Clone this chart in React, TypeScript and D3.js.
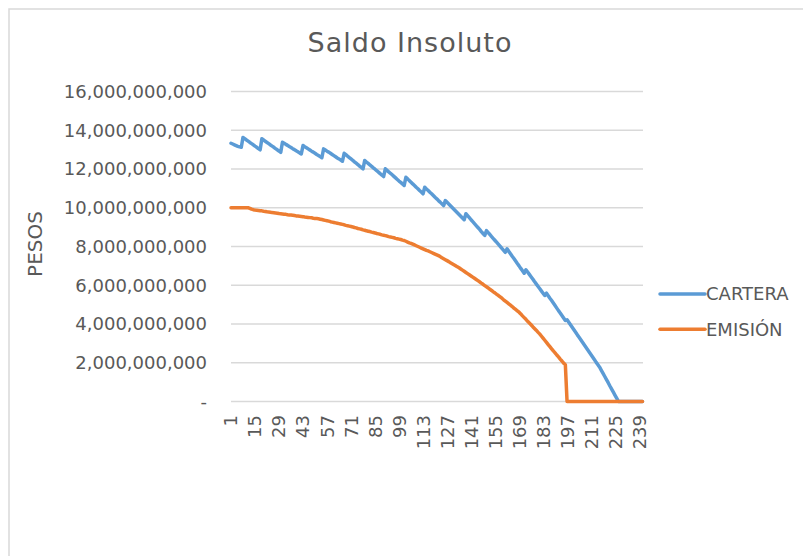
import React from 'react';
import * as d3 from 'd3';

const width = 803;
const height = 556;
const plot = { left: 231, right: 642.5, top: 91.5, bottom: 401.5 };

// periods 1..241 (monthly)
const categories = d3.range(1, 242);
const xTickLabels = [1, 15, 29, 43, 57, 71, 85, 99, 113, 127, 141, 155, 169, 183, 197, 211, 225, 239];
const yTicks = [0, 2e9, 4e9, 6e9, 8e9, 10e9, 12e9, 14e9, 16e9];
const seriesNames = ['CARTERA', 'EMISIÓN'];
const seriesColors = ['#5b9bd5', '#ed7d31'];

// saldo in thousands of millions of pesos
const cartera = [
  13.33, 13.29, 13.25, 13.21, 13.17, 13.14, 13.12,
  13.63, 13.57, 13.50, 13.44, 13.37, 13.31, 13.25, 13.18, 13.12, 13.05, 12.99,
  13.56, 13.50, 13.43, 13.37, 13.31, 13.24, 13.18, 13.12, 13.05, 12.99, 12.92, 12.86,
  13.38, 13.33, 13.27, 13.22, 13.16, 13.11, 13.05, 13.00, 12.94, 12.89, 12.83, 12.78,
  13.21, 13.15, 13.10, 13.04, 12.98, 12.92, 12.87, 12.81, 12.75, 12.70, 12.64, 12.58,
  13.04, 12.98, 12.92, 12.87, 12.81, 12.75, 12.69, 12.63, 12.57, 12.52, 12.46, 12.40,
  12.81, 12.74, 12.66, 12.59, 12.52, 12.45, 12.37, 12.30, 12.23, 12.15, 12.08, 12.01,
  12.44, 12.36, 12.29, 12.21, 12.14, 12.06, 11.99, 11.91, 11.84, 11.76, 11.69, 11.61,
  12.01, 11.93, 11.85, 11.78, 11.70, 11.62, 11.54, 11.46, 11.38, 11.31, 11.23, 11.15,
  11.57, 11.49, 11.40, 11.32, 11.23, 11.15, 11.06, 10.98, 10.89, 10.81, 10.72,
  11.06, 10.97, 10.89, 10.80, 10.72, 10.63, 10.54, 10.46, 10.37, 10.29, 10.20, 10.11,
  10.37, 10.28, 10.19, 10.10, 10.01, 9.92, 9.83, 9.74, 9.65, 9.56, 9.47, 9.38,
  9.69, 9.59, 9.49, 9.38, 9.28, 9.18, 9.08, 8.98, 8.88, 8.77, 8.67, 8.57,
  8.82, 8.72, 8.62, 8.51, 8.41, 8.31, 8.21, 8.11, 8.01, 7.90, 7.80, 7.70,
  7.88, 7.75, 7.63, 7.50, 7.38, 7.25, 7.12, 7.00, 6.87, 6.75, 6.62,
  6.80, 6.68, 6.56, 6.44, 6.32, 6.19, 6.07, 5.95, 5.83, 5.71, 5.59, 5.47,
  5.59, 5.46, 5.33, 5.21, 5.08, 4.95, 4.82, 4.69, 4.57, 4.44, 4.31, 4.18,
  4.22, 4.09, 3.96, 3.83, 3.70, 3.57, 3.44, 3.32, 3.19, 3.06, 2.93, 2.80,
  2.67, 2.54, 2.41, 2.28, 2.15, 2.02, 1.90, 1.77,
  1.61, 1.45, 1.29, 1.13, 0.97, 0.80, 0.64, 0.48, 0.32, 0.16, 0,
  0, 0, 0, 0, 0, 0, 0, 0, 0, 0, 0, 0, 0, 0,
];

const emision = [
  10.00, 10.00, 10.00, 10.00, 10.00, 10.00, 10.00, 10.00, 10.00, 10.00, 10.00,
  9.97, 9.93, 9.90, 9.88, 9.87,
  9.86, 9.85, 9.84, 9.82, 9.81, 9.79, 9.78, 9.77, 9.75, 9.74, 9.73, 9.72, 9.70, 9.69,
  9.68, 9.67, 9.66, 9.64, 9.63, 9.62, 9.61, 9.60, 9.58, 9.57, 9.56,
  9.55, 9.54, 9.52, 9.51, 9.50, 9.49, 9.48, 9.46, 9.45, 9.44, 9.43,
  9.41, 9.39, 9.37, 9.35, 9.33, 9.31, 9.28, 9.26, 9.24, 9.22,
  9.20, 9.18, 9.16, 9.14, 9.12, 9.09, 9.07, 9.05, 9.03,
  9.01, 8.98, 8.96, 8.93, 8.91, 8.89, 8.86, 8.84, 8.81, 8.79, 8.77, 8.74, 8.72, 8.70, 8.67, 8.65,
  8.63, 8.60, 8.58, 8.56, 8.54, 8.51, 8.49, 8.47, 8.45, 8.42, 8.40, 8.38, 8.36, 8.33, 8.31,
  8.27, 8.23, 8.19, 8.16, 8.12, 8.08, 8.04, 8.00,
  7.96, 7.92, 7.88, 7.84, 7.80, 7.77, 7.73, 7.69, 7.65, 7.61, 7.57, 7.53,
  7.48, 7.42, 7.37, 7.32, 7.27, 7.22, 7.16, 7.11, 7.06, 7.01, 6.95, 6.90,
  6.84, 6.78, 6.72, 6.66, 6.60, 6.54, 6.48, 6.42, 6.36, 6.30, 6.24,
  6.18, 6.11, 6.05, 5.98, 5.92, 5.86, 5.79, 5.73, 5.66, 5.60, 5.53, 5.47,
  5.40, 5.33, 5.25, 5.18, 5.11, 5.04, 4.97, 4.90, 4.82, 4.75, 4.68, 4.61,
  4.52, 4.42, 4.33, 4.24, 4.14, 4.05, 3.96, 3.86, 3.77, 3.68, 3.58, 3.49,
  3.38, 3.27, 3.16, 3.05, 2.94, 2.83, 2.72,
  2.61, 2.51, 2.40, 2.30, 2.19, 2.09, 1.98, 1.90,
  0, 0, 0, 0, 0, 0, 0, 0, 0, 0, 0, 0, 0, 0, 0,
  0, 0, 0, 0, 0, 0, 0, 0, 0, 0, 0, 0, 0, 0, 0,
  0, 0, 0, 0, 0, 0, 0, 0, 0, 0, 0, 0, 0, 0, 0,
];

const font = '"DejaVu Sans", Verdana, sans-serif';
const textColor = '#595959';
const gridColor = '#d9d9d9';

const App = () => {
  const x = d3.scalePoint<number>().domain(categories).range([plot.left, plot.right]);
  const y = d3.scaleLinear().domain([0, 16e9]).range([plot.bottom, plot.top]);
  const fmt = d3.format(',');

  const line = d3.line<number>()
    .x((d, i) => x(categories[i]) as number)
    .y(d => y(d * 1e9));

  const data = [cartera, emision];

  return (
    <svg width={width} height={height} style={{ position: 'absolute', left: 0, top: 0 }}
      fontFamily={font}>
      <rect x={0} y={0} width={width} height={height} fill="#fff" />
      <rect x={9} y={9} width={820} height={580} fill="#fff" stroke={gridColor} strokeWidth={1.5} />

      <text x={410} y={51.5} textAnchor="middle" fontSize={27} letterSpacing={1} fill={textColor}>
        Saldo Insoluto
      </text>

      {/* gridlines + y labels */}
      {yTicks.map(t => (
        <g key={t}>
          <line x1={plot.left} x2={643} y1={y(t)} y2={y(t)} stroke={gridColor} strokeWidth={1.5} />
          <text x={207} y={y(t)} dy="0.36em" textAnchor="end" fontSize={18} fill={textColor}>
            {t === 0 ? '-' : fmt(t)}
          </text>
        </g>
      ))}

      <text transform="translate(35,244) rotate(-90)" textAnchor="middle" dy="0.36em"
        fontSize={20} fill={textColor}>PESOS</text>

      {/* x tick labels */}
      {xTickLabels.map(c => (
        <text key={c} transform={`translate(${x(c)},415) rotate(-90)`} textAnchor="end"
          dy="0.36em" fontSize={18} fill={textColor}>{c}</text>
      ))}

      {/* series */}
      {data.map((s, i) => (
        <path key={seriesNames[i]} d={line(s) ?? ''} fill="none" stroke={seriesColors[i]}
          strokeWidth={3.5} strokeLinejoin="round" strokeLinecap="round" />
      ))}

      {/* legend */}
      {seriesNames.map((n, i) => (
        <g key={n} transform={`translate(660,${294 + i * 35.3})`}>
          <line x1={0} x2={45} y1={0} y2={0} stroke={seriesColors[i]} strokeWidth={3.5} strokeLinecap="round" />
          <text x={46} y={0} dy="0.36em" fontSize={18} fill={textColor}>{n}</text>
        </g>
      ))}
    </svg>
  );
};

export default App;
